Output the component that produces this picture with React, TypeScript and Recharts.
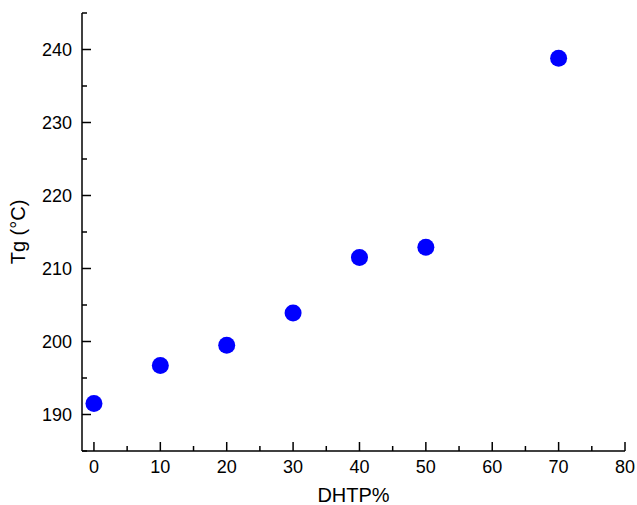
import { Scatter, ScatterChart, XAxis, YAxis } from "recharts";

const dhtp = [0, 10, 20, 30, 40, 50, 70];
const tg = [191.5, 196.7, 199.5, 203.9, 211.5, 212.9, 238.8];

const xTicks = [0, 5, 10, 15, 20, 25, 30, 35, 40, 45, 50, 55, 60, 65, 70, 75, 80];
const yTicks = [185, 190, 195, 200, 205, 210, 215, 220, 225, 230, 235, 240, 245];

const data = dhtp.map((x, i) => ({ x, y: tg[i] }));

const FONT = "'Liberation Sans', Arial, sans-serif";

const XTick = ({ x, y, payload }: any) => {
  const major = payload.value % 10 === 0;
  return (
    <g>
      <line x1={x} x2={x} y1={y} y2={y - (major ? 9 : 5)} stroke="#000" strokeWidth={1.5} />
      {major && (
        <text x={x} y={y + 21.5} textAnchor="middle" fontSize={18} fontFamily={FONT} fill="#000">
          {payload.value}
        </text>
      )}
    </g>
  );
};

const YTick = ({ x, y, payload }: any) => {
  const major = payload.value % 10 === 0;
  return (
    <g>
      <line x1={x} x2={x + (major ? 9 : 5)} y1={y} y2={y} stroke="#000" strokeWidth={1.5} />
      {major && (
        <text x={x - 10} y={y + 6.5} textAnchor="end" fontSize={18} fontFamily={FONT} fill="#000">
          {payload.value}
        </text>
      )}
    </g>
  );
};

export default function App() {
  return (
    <div style={{ position: "absolute", left: 0, top: 0, background: "#fff" }}>
      <ScatterChart width={637} height={505} margin={{ top: 13, right: 12, bottom: 0, left: 22 }}>
        <XAxis
          type="number"
          dataKey="x"
          domain={[-1.8, 80]}
          ticks={xTicks}
          tick={<XTick />}
          tickLine={false}
          tickSize={0}
          tickMargin={0}
          interval={0}
          height={54}
          axisLine={{ stroke: "#000", strokeWidth: 1.5 }}
          label={{ value: "DHTP%", position: "insideBottom", offset: 3, fontSize: 20, fontFamily: FONT, fill: "#000" }}
        />
        <YAxis
          type="number"
          dataKey="y"
          domain={[185, 245]}
          ticks={yTicks}
          tick={<YTick />}
          tickLine={false}
          tickSize={0}
          tickMargin={0}
          interval={0}
          width={60}
          axisLine={{ stroke: "#000", strokeWidth: 1.5 }}
          label={{ value: "Tg (°C)", angle: -90, position: "insideLeft", offset: -4, fontSize: 20, fontFamily: FONT, fill: "#000", style: { textAnchor: "middle" } }}
        />
        <Scatter
          data={data}
          isAnimationActive={false}
          shape={(p: any) => <circle cx={p.cx} cy={p.cy} r={8.5} fill="#0000ff" />}
        />
      </ScatterChart>
    </div>
  );
}
